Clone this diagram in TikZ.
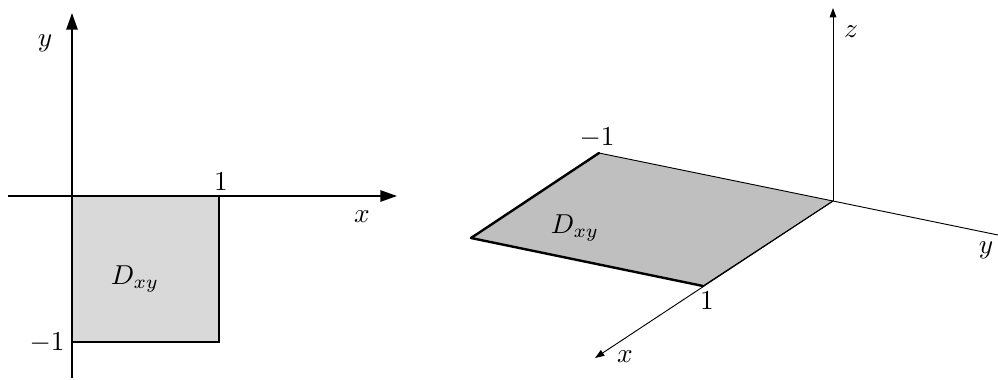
\documentclass[tikz,border=0pt]{standalone}
\usetikzlibrary{arrows.meta}
\begin{document}
\begin{tikzpicture}[x=0.75pt,y=-0.75pt,
  lbl/.style={inner sep=0pt,scale=2.05},
  bigaxis/.style={line width=1.3pt,-{Triangle[length=12.5pt,width=8.5pt]}},
  smallaxis/.style={line width=0.7pt,-{Triangle[length=7pt,width=5pt]}},
  thinedge/.style={line width=0.7pt},
  thickedge/.style={line width=1.8pt,line cap=round,line join=round}]
\useasboundingbox (0,0) rectangle (998,379);
% ---------- left diagram ----------
\coordinate (O1) at (72,196);
\coordinate (xs) at (8,196);
\coordinate (xe) at (397,196);
\coordinate (ys) at (72,378);
\coordinate (ye) at (72,13);
\coordinate (A1) at (219,196);
\coordinate (B1) at (219,342);
\coordinate (C1) at (72,342);
\fill[black!15] (O1) -- (A1) -- (B1) -- (C1) -- cycle;
\draw[line width=1.2pt] (O1) -- (A1) -- (B1) -- (C1) -- cycle;
\draw[bigaxis] (xs) -- (xe);
\draw[bigaxis] (ys) -- (ye);
\node[lbl] (l1) at (221,182) {$1$};
\node[lbl] (lm1) at (47,343) {$-1$};
\node[lbl] (lx) at (362,217) {$x$};
\node[lbl] (ly) at (45,43) {$y$};
\node[lbl] (lD) at (135,279) {$D_{xy}$};
% ---------- right diagram ----------
\coordinate (O2) at (833,201);
\coordinate (P) at (703,286);
\coordinate (Q) at (599,153);
\coordinate (R) at (471,238);
\coordinate (zt) at (833,8);
\coordinate (xt) at (595,358);
\coordinate (yt) at (998,235);
\fill[black!25] (O2) -- (P) -- (R) -- (Q) -- cycle;
\draw[thinedge] (O2) -- (Q);
\draw[thinedge] (O2) -- (P);
\draw[thickedge] (Q) -- (R) -- (P);
\draw[smallaxis] (O2) -- (zt);
\draw[smallaxis] (O2) -- (xt);
\draw[thinedge] (O2) -- (yt);
\node[lbl] (r1) at (707,301) {$1$};
\node[lbl] (rm1) at (597,138) {$-1$};
\node[lbl] (rx) at (625,357) {$x$};
\node[lbl] (ry) at (986,250) {$y$};
\node[lbl] (rz) at (851,32) {$z$};
\node[lbl] (rD) at (575,228) {$D_{xy}$};
\end{tikzpicture}
\end{document}
